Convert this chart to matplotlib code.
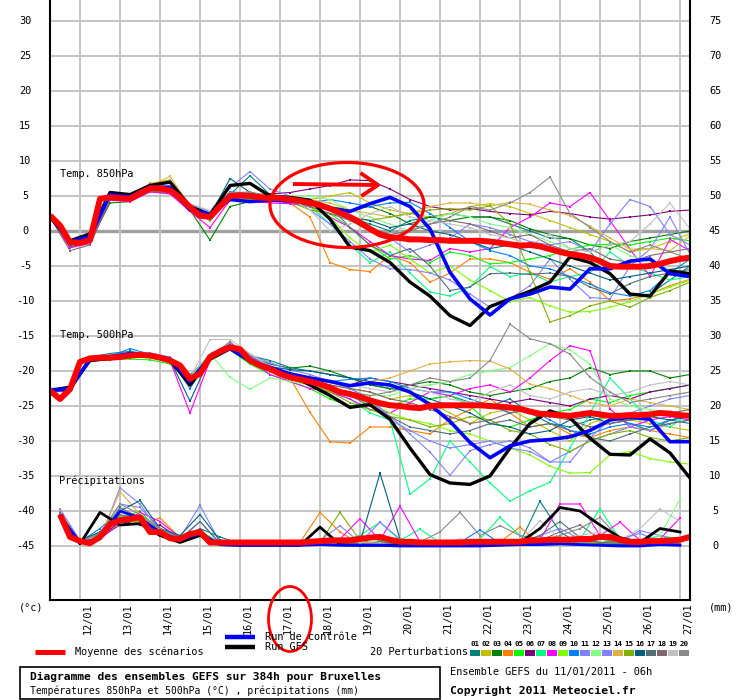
import numpy as np
import matplotlib
matplotlib.use('Agg')
import matplotlib.pyplot as plt
from matplotlib.patches import Ellipse, Rectangle
from matplotlib.transforms import blended_transform_factory as blend

# ---------------- DATA ----------------
# hours since 11/01/2011 06h; means every 6h, members every 12h
date_labels = ['12/01', '13/01', '14/01', '15/01', '16/01', '17/01', '18/01', '19/01',
               '20/01', '21/01', '22/01', '23/01', '24/01', '25/01', '26/01', '27/01']
left_ticks = [30, 25, 20, 15, 10, 5, 0, -5, -10, -15, -20, -25, -30, -35, -40, -45]
right_labels = [75, 70, 65, 60, 55, 50, 45, 40, 35, 30, 25, 20, 15, 10, 5, 0]
precip_offset = -45  # precipitation (mm) drawn on the right scale, 0 mm at -45 on the left

pert_colors = ['#008080', '#c0c000', '#008000', '#ff8000', '#00ff00', '#800080', '#00ff80',
               '#ff00ff', '#80ff00', '#0080ff', '#8080ff', '#80ff80', '#8080ff', '#e0b040',
               '#80b000', '#006080', '#507078', '#806870', '#c0c0c0', '#888888']

mean_t850 = [2.2, 0.8, -1.6, -1.7, -1.3, 4.6, 4.8, 4.7, 4.6, 5.4,
             6.1, 6.1, 5.8, 4.8, 3.4, 2.2, 2.0, 3.5, 5.0, 5.1,
             5.0, 4.8, 4.7, 4.7, 4.5, 4.3, 4.0, 3.7, 3.2, 2.6,
             2.0, 1.2, 0.3, -0.5, -0.9, -1.0, -1.2, -1.2, -1.3, -1.3,
             -1.4, -1.4, -1.4, -1.4, -1.5, -1.7, -1.9, -2.1, -2.0, -2.2,
             -2.6, -3.0, -3.3, -3.5, -3.8, -4.3, -5.0, -5.1, -5.1, -5.1,
             -5.0, -4.7, -4.3, -4.0, -3.8]
mean_t500 = [-22.8, -24.0, -22.6, -18.7, -18.2, -18.1, -18.1, -18.0, -17.8, -17.7,
             -17.8, -18.1, -18.5, -19.2, -21.1, -20.4, -18.0, -17.2, -16.6, -16.9,
             -18.5, -19.2, -19.7, -20.4, -20.9, -21.2, -21.5, -21.9, -22.4, -23.0,
             -23.3, -23.7, -24.2, -24.6, -24.9, -25.0, -25.2, -25.3, -25.0, -24.9,
             -24.9, -24.9, -24.9, -24.9, -25.0, -25.1, -25.2, -25.4, -25.8, -26.1,
             -26.2, -26.3, -26.4, -26.2, -26.0, -26.2, -26.4, -26.4, -26.3, -26.3,
             -26.2, -26.0, -26.1, -26.3, -26.4]
mean_precip = [4.5, 1.3, 0.7, 0.4, 1.3, 3.1, 3.7, 3.9, 4.1, 2.0,
               2.0, 1.1, 1.0, 1.7, 2.0, 0.5, 0.5, 0.5, 0.5, 0.5,
               0.5, 0.5, 0.5, 0.5, 0.5, 0.6, 0.7, 0.8, 0.8, 0.8,
               1.0, 1.2, 1.3, 0.9, 0.6, 0.6, 0.5, 0.5, 0.5, 0.5,
               0.5, 0.6, 0.6, 0.6, 0.6, 0.6, 0.6, 0.8, 0.8, 0.9,
               0.9, 0.9, 1.0, 1.0, 1.3, 1.3, 0.9, 0.6, 0.6, 0.7,
               0.7, 0.8, 0.9, 1.3]

ctrl_t850 = [2.2, -1.5, -0.8, 5.2, 4.9, 6.3, 6.2, 3.0, 2.4, 4.5, 4.2, 4.4, 4.3,
             4.0, 3.2, 2.8, 3.9, 4.8, 3.5, 0.3, -5.9, -9.7, -12.0, -9.7, -9.0, -8.0,
             -8.3, -5.4, -5.4, -4.3, -4.0, -6.1, -6.5]
gfs_t850 = [2.0, -1.4, -0.4, 5.5, 5.2, 6.5, 7.0, 3.5, 2.3, 6.5, 6.8, 5.0, 4.8,
            4.4, 1.7, -2.3, -2.8, -4.5, -7.3, -9.3, -12.1, -13.5, -10.8, -9.7, -8.6,
            -7.3, -3.7, -4.5, -6.1, -9.0, -9.3, -5.7, -6.1]
ctrl_t500 = [-22.8, -22.5, -18.3, -18.0, -17.5, -17.8, -18.3, -21.5, -18.0, -16.8, -18.5,
             -19.5, -20.4, -21.0, -21.5, -22.1, -21.7, -22.0, -23.0, -24.8, -27.2, -30.2,
             -32.4, -30.7, -30.0, -29.8, -29.4, -28.5, -27.0, -26.6, -26.9, -30.1, -30.1]
gfs_t500 = [-22.8, -22.3, -18.5, -18.2, -17.6, -17.9, -18.4, -22.0, -18.3, -16.8, -18.6,
            -19.8, -20.5, -22.0, -23.5, -25.2, -24.8, -26.9, -31.0, -34.8, -36.0, -36.2,
            -35.0, -31.0, -27.5, -25.7, -26.7, -29.6, -31.9, -32.0, -29.7, -31.7, -35.3]
ctrl_precip = [4.2, 0.5, 1.0, 5.0, 4.0, 2.0, 0.8, 1.8, 0.2, 0.1,
               0.1, 0.1, 0.1, 0.2, 0.1, 0.1, 0.1, 0.0, 0.0, 0.0,
               0.0, 0.0, 0.1, 0.2, 0.2, 0.3, 0.2, 0.1, 0.0, 0.0,
               0.2, 0.1]
gfs_precip = [4.3, 0.3, 4.8, 3.0, 3.2, 1.5, 0.5, 1.5, 0.2, 0.1,
              0.1, 0.1, 0.1, 2.7, 0.2, 0.1, 0.1, 0.2, 0.1, 0.1,
              0.3, 0.3, 0.4, 0.5, 2.5, 5.5, 5.0, 3.0, 1.2, 0.5,
              2.5, 2.0]

t850_01 = [2.1, -1.7, -0.9, 5.0, 4.8, 6.0, 5.6, 3.1, 2.2, 5.2, 7.9, 5.2, 4.6, 4.0, 3.5, 2.0, 1.0, 0.0, 1.5, 2.0, 2.5, 2.0, 2.0, 1.0, 0.0, -1.0, -1.1, -3.0, -6.0, -9.3, -9.0, -7.0, -5.0]
t850_02 = [2.2, -1.9, -1.2, 4.5, 4.8, 6.8, 7.3, 3.8, 1.8, 4.6, 5.5, 5.0, 4.8, 4.5, 5.0, 5.5, 4.0, 3.0, 2.5, 2.0, 2.5, 3.5, 3.9, 3.5, 2.5, 1.5, 0.5, -0.5, -1.5, -3.0, -2.5, -1.5, -0.4]
t850_03 = [2.0, -2.3, -1.5, 4.0, 4.2, 5.6, 5.4, 3.0, -1.3, 3.5, 4.2, 4.5, 4.0, 4.0, 3.5, 3.0, 3.5, 2.5, 1.0, 2.0, 1.5, 2.0, 2.0, 1.5, 0.3, -0.5, -1.1, -2.0, -2.5, -1.5, -1.0, -0.5, 0.0]
t850_04 = [2.2, -1.8, -1.0, 5.0, 4.5, 6.0, 5.8, 3.6, 2.2, 5.0, 4.6, 4.8, 4.0, 2.0, -4.5, -5.5, -5.8, -3.5, -4.5, -7.3, -6.0, -4.0, -4.0, -4.5, -5.9, -6.9, -5.4, -7.3, -10.0, -9.7, -9.0, -7.8, -6.9]
t850_05 = [2.0, -2.0, -1.4, 4.6, 4.3, 5.7, 5.5, 3.2, 1.5, 4.8, 4.5, 4.8, 4.2, 3.0, 2.5, 0.5, -2.0, -4.0, -3.5, -4.5, -3.0, -3.5, -4.7, -4.5, -4.0, -3.5, -2.6, -2.0, -1.9, -2.0, -1.5, -1.0, -1.4]
t850_06 = [2.1, -1.7, -0.8, 4.9, 4.7, 6.2, 5.9, 3.5, 2.4, 5.3, 5.2, 5.3, 5.5, 6.0, 6.5, 7.3, 7.2, 6.0, 4.5, 3.5, 3.0, 3.2, 2.8, 2.5, 2.3, 2.8, 2.5, 2.0, 1.7, 2.0, 2.3, 2.8, 3.0]
t850_07 = [2.1, -1.9, -1.1, 4.7, 4.6, 6.0, 5.7, 3.3, 1.9, 4.9, 5.1, 4.6, 4.3, 3.5, 1.0, -2.0, -4.5, -3.0, -6.0, -8.7, -9.3, -8.0, -5.1, -6.5, -6.0, -7.3, -6.5, -6.0, -3.0, -5.0, -6.0, -7.0, -6.5]
t850_08 = [2.0, -2.4, -1.8, 4.4, 4.2, 5.6, 5.3, 2.8, 0.5, 4.4, 4.3, 4.0, 3.9, 3.5, 2.0, 0.5, -1.5, -3.5, -4.0, -4.2, -2.5, -3.0, -2.5, 0.5, 2.0, 4.0, 3.5, 5.5, 1.5, -2.6, -6.5, -1.2, -2.8]
t850_09 = [2.2, -1.8, -1.1, 4.9, 4.5, 5.9, 5.7, 3.4, 2.0, 5.1, 4.9, 4.7, 4.5, 3.5, 2.0, -1.0, -3.0, -2.0, -4.0, -6.0, -5.0, -7.0, -8.5, -10.1, -9.5, -10.7, -11.6, -11.5, -10.9, -10.1, -9.0, -8.0, -7.0]
t850_10 = [2.3, -1.6, -0.7, 5.3, 5.0, 6.4, 6.0, 3.6, 2.6, 5.6, 5.4, 5.0, 4.7, 4.0, 4.5, 4.0, 3.5, 4.0, 4.1, 2.5, 0.5, -1.5, -2.8, -3.5, -5.0, -5.4, -6.5, -7.6, -8.8, -9.3, -8.5, -6.0, -4.0]
t850_11 = [2.2, -1.5, -0.6, 5.3, 5.2, 6.7, 6.5, 3.8, 2.8, 6.2, 8.5, 6.0, 5.0, 3.0, 1.0, -1.5, -4.0, -5.4, -5.5, -6.0, -7.0, -9.0, -10.9, -9.7, -7.8, -4.0, -6.9, -9.5, -9.7, -5.0, -2.6, 2.0, -3.3]
t850_12 = [2.1, -1.8, -1.0, 4.8, 4.7, 6.0, 5.8, 3.3, 2.0, 4.9, 5.0, 4.9, 5.0, 5.0, 4.5, 3.0, 2.0, 1.0, 0.0, 1.5, 2.5, 2.0, 1.0, 0.5, -0.5, -1.5, -2.5, -3.0, -2.0, -3.5, -4.5, -5.5, -6.0]
t850_13 = [2.0, -2.0, -1.3, 4.6, 4.5, 6.0, 6.1, 3.2, 1.9, 4.7, 4.8, 4.4, 4.2, 4.0, 3.0, 2.0, 0.0, -1.0, -3.0, -2.0, -1.0, 1.0, 0.5, -0.5, -1.5, -2.0, -1.5, -3.0, 1.0, 4.5, 3.5, -0.5, -2.0]
t850_14 = [2.2, -1.7, -0.9, 5.1, 4.9, 6.4, 7.8, 3.5, 2.3, 5.4, 5.2, 5.1, 4.9, 4.5, 4.0, 3.0, 2.5, 2.0, 2.5, 3.5, 4.0, 4.0, 3.6, 4.1, 3.8, 3.0, 2.2, 0.7, -1.0, -2.6, -2.5, -2.8, -0.7]
t850_15 = [2.1, -1.8, -1.2, 4.7, 4.4, 5.8, 5.6, 3.1, 1.6, 4.6, 4.7, 4.6, 4.4, 3.0, 2.5, 2.0, 1.5, 2.0, 2.5, 3.0, 3.2, 3.0, 3.6, 1.0, -6.0, -13.0, -12.1, -10.7, -10.0, -10.9, -9.5, -8.5, -7.3]
t850_16 = [2.2, -1.6, -0.8, 5.0, 4.8, 6.2, 5.9, 3.4, 2.1, 7.5, 5.5, 4.8, 4.5, 4.0, 3.0, 2.0, 1.5, 0.5, 1.0, 0.0, -0.5, -1.5, -2.5, -2.0, -3.0, -4.0, -5.0, -6.0, -7.0, -6.5, -6.0, -5.5, -5.0]
t850_17 = [2.1, -2.1, -1.4, 4.9, 4.6, 6.1, 5.8, 3.3, 1.8, 5.0, 5.3, 4.6, 4.4, 4.5, 3.5, 0.5, -2.0, -3.5, -2.5, -5.0, -8.5, -8.0, -6.1, -6.0, -6.2, -6.0, -6.5, -8.0, -9.0, -7.5, -6.5, -6.0, -5.5]
t850_18 = [2.0, -2.8, -2.0, 4.5, 4.4, 5.8, 5.5, 3.0, 1.7, 4.7, 4.9, 4.5, 4.3, 3.5, 2.5, 1.5, 0.5, -0.5, 0.0, 1.0, 1.5, 1.0, 0.0, -1.0, -0.5, -2.0, -3.0, -2.5, -4.0, -4.5, -3.5, -3.0, -2.5]
t850_19 = [2.2, -1.8, -1.0, 4.8, 4.6, 5.9, 5.8, 3.9, 2.9, 5.2, 5.1, 4.8, 4.6, 3.0, 0.0, 1.0, 2.5, 3.5, 2.0, 1.5, 1.0, 0.5, -0.5, -1.0, -2.0, -0.5, -2.5, -3.0, -2.0, -1.5, 1.0, 4.0, 0.3]
t850_20 = [2.1, -1.9, -1.1, 4.8, 4.7, 6.3, 6.0, 3.4, 2.0, 5.4, 5.6, 4.9, 4.7, 4.0, 3.0, 1.5, 0.0, -1.0, 0.0, 1.0, 2.0, 3.5, 3.0, 4.0, 5.5, 7.7, 2.5, 0.5, -1.5, -3.0, -2.0, -3.0, -4.0]

t500_01 = [-22.6, -22.4, -18.0, -17.5, -17.2, -17.6, -18.3, -21.5, -17.5, -16.4, -17.8, -18.5, -19.5, -20.0, -20.5, -21.0, -22.0, -22.5, -23.0, -24.0, -23.5, -24.5, -25.0, -24.0, -26.0, -27.5, -28.0, -27.0, -26.5, -27.5, -28.5, -27.0, -27.5]
t500_02 = [-22.9, -22.7, -18.5, -18.3, -17.9, -17.6, -18.4, -20.8, -17.9, -16.2, -17.6, -19.4, -20.6, -21.0, -22.0, -22.5, -23.0, -24.0, -23.5, -24.5, -26.0, -27.5, -26.0, -25.5, -27.0, -28.5, -30.0, -27.5, -26.5, -27.0, -27.5, -28.0, -28.5]
t500_03 = [-23.0, -22.9, -18.6, -18.4, -18.0, -17.9, -18.6, -20.5, -18.3, -16.8, -18.0, -19.0, -19.6, -19.3, -20.0, -21.0, -22.0, -22.5, -22.0, -21.5, -22.0, -23.0, -23.5, -23.0, -22.5, -21.5, -21.0, -19.5, -20.5, -20.0, -20.0, -21.0, -20.5]
t500_04 = [-22.7, -22.5, -18.3, -18.2, -17.9, -18.0, -18.7, -21.3, -18.2, -16.9, -18.6, -20.0, -21.0, -25.9, -30.1, -30.3, -28.0, -28.0, -28.5, -29.0, -26.9, -25.5, -24.0, -26.0, -28.0, -27.5, -29.0, -29.5, -28.5, -28.0, -28.5, -29.0, -29.5]
t500_05 = [-22.8, -22.6, -18.4, -18.3, -18.3, -18.4, -19.0, -21.5, -18.5, -17.0, -19.0, -20.5, -21.5, -22.5, -24.0, -25.0, -24.5, -25.0, -24.0, -24.0, -23.5, -25.0, -27.5, -28.0, -27.0, -26.0, -25.5, -24.0, -24.5, -23.5, -23.0, -22.5, -22.0]
t500_06 = [-22.7, -22.5, -18.1, -18.0, -17.6, -17.5, -18.1, -20.9, -17.8, -16.5, -18.3, -19.8, -20.5, -21.0, -21.5, -22.0, -21.0, -21.5, -22.0, -22.5, -23.0, -23.5, -24.0, -24.5, -24.0, -24.5, -25.0, -24.0, -23.5, -24.0, -23.0, -22.5, -22.0]
t500_07 = [-22.8, -22.6, -18.3, -18.1, -17.9, -17.8, -18.6, -21.3, -18.1, -16.7, -18.6, -20.0, -21.0, -22.0, -23.0, -24.0, -26.0, -27.0, -37.6, -35.4, -30.0, -33.0, -36.0, -38.6, -37.1, -35.9, -31.0, -26.0, -21.0, -24.0, -27.0, -28.0, -26.0]
t500_08 = [-22.9, -22.8, -18.3, -18.2, -17.8, -17.7, -18.5, -26.0, -18.5, -16.8, -18.5, -20.5, -21.5, -22.5, -23.0, -24.0, -25.5, -26.0, -24.5, -23.0, -23.5, -22.5, -22.0, -23.0, -21.0, -18.5, -16.4, -17.1, -25.4, -28.0, -27.0, -26.5, -27.0]
t500_09 = [-22.8, -22.6, -18.2, -18.0, -17.7, -17.7, -18.4, -21.0, -17.9, -16.5, -18.4, -19.6, -20.8, -21.5, -22.5, -23.5, -24.5, -26.0, -27.0, -27.5, -28.5, -29.0, -30.0, -31.0, -32.0, -33.6, -34.6, -34.5, -32.0, -31.5, -32.5, -33.0, -33.3]
t500_10 = [-22.6, -22.4, -18.1, -17.9, -16.8, -17.6, -18.2, -22.5, -18.0, -16.3, -18.0, -19.5, -20.5, -21.0, -21.5, -21.2, -21.0, -21.5, -22.5, -23.0, -23.0, -24.0, -25.0, -26.0, -25.5, -27.0, -28.5, -29.0, -28.0, -27.5, -28.0, -27.0, -26.5]
t500_11 = [-22.5, -22.3, -18.0, -17.7, -17.5, -17.4, -18.0, -20.7, -17.6, -16.0, -17.7, -18.8, -19.8, -20.5, -21.5, -22.5, -24.0, -26.5, -29.0, -31.6, -34.9, -31.4, -30.5, -30.0, -31.0, -33.0, -33.0, -29.5, -27.0, -26.0, -25.0, -24.0, -23.5]
t500_12 = [-22.8, -22.6, -18.3, -18.1, -17.8, -17.9, -18.6, -21.0, -17.5, -20.9, -22.6, -21.0, -21.5, -22.0, -22.5, -23.0, -23.5, -23.5, -22.5, -22.0, -21.5, -20.5, -20.0, -19.5, -17.8, -16.1, -17.0, -19.0, -24.0, -25.0, -25.5, -26.0, -25.5]
t500_13 = [-22.7, -22.5, -18.2, -18.0, -17.6, -17.6, -18.3, -21.2, -17.9, -16.6, -17.9, -19.2, -20.3, -21.0, -21.5, -22.5, -24.0, -27.0, -28.5, -30.0, -31.0, -30.5, -30.0, -31.0, -31.5, -33.0, -31.5, -30.0, -29.0, -28.0, -28.5, -27.5, -27.0]
t500_14 = [-22.8, -22.6, -18.2, -18.1, -17.8, -17.8, -18.4, -21.1, -18.0, -16.6, -18.3, -19.5, -20.5, -21.0, -21.5, -22.0, -21.5, -21.0, -20.0, -19.0, -18.7, -18.5, -18.6, -19.7, -21.9, -22.5, -23.5, -24.5, -25.0, -24.0, -24.5, -25.0, -25.5]
t500_15 = [-22.9, -22.7, -18.4, -18.2, -17.9, -17.9, -18.7, -21.4, -18.3, -16.9, -18.7, -20.1, -21.2, -22.0, -23.0, -24.5, -25.5, -26.5, -27.0, -28.0, -27.5, -26.5, -27.0, -28.5, -29.0, -30.5, -31.5, -30.0, -29.0, -28.5, -29.5, -30.0, -29.5]
t500_16 = [-22.7, -22.5, -18.1, -18.0, -17.7, -17.7, -18.4, -24.3, -18.1, -16.7, -18.4, -19.4, -19.8, -20.0, -20.5, -21.0, -21.5, -22.0, -23.0, -24.0, -25.0, -26.0, -27.5, -28.0, -29.0, -28.5, -27.0, -26.5, -27.5, -27.0, -26.5, -27.0, -26.5]
t500_17 = [-22.8, -22.6, -18.3, -18.1, -17.8, -17.8, -18.5, -21.2, -18.1, -16.7, -18.5, -19.7, -20.8, -21.5, -22.5, -23.5, -25.0, -26.5, -28.0, -28.5, -29.0, -28.5, -27.5, -27.0, -28.0, -27.5, -28.5, -29.5, -30.0, -29.0, -28.0, -27.5, -27.0]
t500_18 = [-22.9, -22.7, -18.2, -18.2, -17.9, -17.9, -18.6, -21.3, -18.2, -16.8, -18.6, -19.9, -21.0, -21.5, -22.0, -22.5, -23.0, -24.0, -24.5, -25.5, -26.5, -27.5, -27.0, -26.0, -25.5, -26.5, -27.0, -28.0, -27.5, -27.0, -26.5, -26.0, -25.5]
t500_19 = [-22.8, -22.5, -18.2, -18.1, -17.8, -17.8, -18.4, -21.0, -15.5, -15.5, -17.5, -19.4, -20.4, -21.0, -21.5, -22.0, -22.5, -23.0, -22.5, -23.0, -24.0, -24.5, -23.0, -22.0, -23.5, -24.0, -23.0, -22.5, -23.5, -23.0, -22.0, -21.5, -22.0]
t500_20 = [-22.8, -22.6, -18.2, -18.1, -17.8, -17.8, -18.5, -21.1, -18.0, -15.8, -18.3, -19.6, -20.7, -21.5, -22.5, -23.0, -23.5, -23.0, -22.0, -21.0, -21.5, -21.0, -18.5, -13.3, -15.4, -16.1, -17.6, -20.9, -23.0, -24.5, -24.0, -23.5, -23.0]

rr_01 = [4.5, 0.6, 1.5, 4.0, 3.5, 2.0, 1.0, 2.5, 1.3, 0.3, 0.2, 0.1, 0.1, 0.2, 0.3, 1.5, 0.8, 0.2, 0.1, 0.2, 0.3, 0.2, 0.3, 0.5, 6.4, 2.0, 0.3, 0.2, 0.1, 0.1, 0.2, 0.3]
rr_02 = [4.0, 0.5, 1.0, 3.5, 4.5, 2.5, 0.8, 1.5, 0.2, 0.1, 0.1, 0.1, 0.2, 0.5, 0.3, 0.2, 0.4, 0.3, 0.2, 0.6, 0.2, 0.3, 0.2, 0.1, 0.3, 0.2, 0.5, 0.3, 0.2, 0.1, 0.3, 0.6]
rr_03 = [4.2, 0.4, 1.2, 3.0, 3.8, 1.8, 0.6, 2.0, 0.3, 0.2, 0.1, 0.1, 0.1, 0.2, 0.2, 0.3, 0.2, 0.1, 0.1, 0.1, 0.2, 0.1, 0.1, 0.2, 0.3, 0.5, 0.2, 0.1, 0.2, 0.3, 0.2, 0.1]
rr_04 = [4.8, 0.7, 1.5, 4.5, 3.0, 4.0, 1.2, 1.8, 0.3, 0.2, 0.1, 0.2, 0.5, 4.8, 2.0, 0.3, 0.3, 0.2, 0.4, 0.6, 0.8, 0.5, 0.6, 2.7, 0.3, 0.4, 0.6, 0.3, 0.2, 0.3, 0.5, 0.4]
rr_05 = [4.5, 0.5, 2.0, 4.0, 5.0, 2.0, 1.5, 2.2, 0.4, 0.1, 0.1, 0.1, 0.1, 0.3, 0.5, 0.4, 0.6, 1.0, 0.5, 0.3, 0.2, 0.3, 0.5, 0.6, 0.3, 0.4, 0.8, 0.5, 0.4, 0.3, 0.8, 1.2]
rr_06 = [4.3, 0.5, 1.2, 3.5, 3.0, 3.0, 1.0, 1.5, 0.2, 0.1, 0.1, 0.1, 0.2, 0.3, 0.2, 0.4, 0.3, 0.2, 0.2, 0.3, 0.2, 0.1, 0.1, 0.2, 0.3, 0.4, 0.2, 0.1, 0.1, 0.2, 0.3, 0.2]
rr_07 = [4.6, 0.6, 1.4, 4.2, 4.5, 2.2, 1.0, 1.8, 0.3, 0.2, 0.1, 0.1, 0.1, 0.3, 0.6, 1.5, 3.4, 0.8, 2.4, 0.5, 0.6, 1.0, 4.1, 1.5, 0.5, 0.6, 1.0, 5.3, 1.0, 0.5, 1.5, 1.0]
rr_08 = [4.0, 0.5, 1.0, 3.2, 4.8, 3.5, 1.2, 2.0, 0.3, 0.1, 0.1, 0.1, 0.2, 0.5, 1.0, 3.9, 0.8, 5.7, 0.6, 0.2, 0.3, 0.2, 0.1, 0.3, 0.8, 6.0, 6.0, 1.5, 3.4, 0.8, 1.0, 4.0]
rr_09 = [4.4, 0.5, 1.5, 4.5, 3.5, 2.0, 0.8, 1.6, 0.2, 0.1, 0.1, 0.1, 0.1, 0.2, 0.3, 0.2, 0.3, 0.2, 0.1, 0.2, 0.1, 0.2, 0.3, 0.2, 0.1, 0.2, 0.3, 0.2, 0.1, 0.1, 0.2, 0.5]
rr_10 = [4.7, 0.6, 2.5, 5.0, 4.0, 1.5, 0.7, 2.0, 0.3, 0.1, 0.1, 0.1, 0.1, 0.2, 0.2, 0.3, 0.5, 0.4, 0.3, 0.4, 0.5, 2.3, 0.4, 0.3, 0.4, 0.5, 0.3, 0.2, 0.4, 0.3, 0.2, 0.3]
rr_11 = [5.3, 0.8, 1.8, 6.0, 5.5, 2.5, 1.2, 5.8, 0.5, 0.2, 0.1, 0.1, 0.3, 0.8, 2.9, 0.5, 3.4, 1.0, 0.4, 0.3, 0.5, 0.4, 0.3, 0.5, 1.5, 2.5, 1.0, 0.5, 0.6, 2.2, 1.5, 0.5]
rr_12 = [4.5, 0.6, 1.5, 4.0, 4.2, 2.0, 1.0, 1.5, 0.2, 0.1, 0.1, 0.1, 0.2, 0.3, 0.5, 0.4, 0.5, 0.6, 0.4, 0.3, 0.3, 0.4, 0.5, 0.4, 0.8, 1.0, 0.8, 1.2, 0.6, 0.8, 1.5, 6.7]
rr_13 = [4.2, 0.5, 1.0, 8.3, 6.0, 2.0, 0.9, 3.5, 0.3, 0.1, 0.1, 0.1, 0.1, 0.3, 0.4, 0.3, 0.5, 0.4, 0.3, 0.4, 0.3, 0.2, 0.4, 0.5, 0.8, 0.6, 0.5, 0.4, 1.0, 1.8, 0.6, 0.5]
rr_14 = [4.6, 0.7, 1.2, 7.8, 4.5, 2.2, 1.0, 1.8, 0.3, 0.1, 0.1, 0.1, 0.2, 0.3, 0.2, 0.3, 0.4, 0.2, 0.3, 0.2, 0.4, 0.3, 0.4, 0.3, 0.2, 0.3, 0.2, 0.4, 0.3, 0.2, 0.3, 0.4]
rr_15 = [4.4, 0.5, 1.8, 4.0, 3.5, 2.2, 0.8, 1.8, 0.2, 0.1, 0.1, 0.1, 0.2, 0.5, 4.8, 0.8, 0.3, 0.4, 0.3, 0.2, 0.5, 0.4, 0.3, 0.2, 0.5, 0.4, 0.6, 0.5, 0.8, 0.5, 0.3, 1.2]
rr_16 = [4.5, 0.8, 2.0, 5.0, 6.5, 2.5, 1.5, 4.5, 0.8, 0.3, 0.2, 0.1, 0.1, 0.2, 0.5, 0.5, 10.4, 1.0, 0.3, 0.2, 0.3, 0.2, 0.3, 0.4, 0.5, 0.3, 0.2, 0.3, 0.2, 0.3, 0.2, 0.3]
rr_17 = [4.3, 0.6, 1.5, 5.5, 4.0, 2.0, 1.0, 3.5, 0.4, 0.2, 0.1, 0.1, 0.1, 0.4, 0.3, 0.3, 0.6, 0.3, 0.4, 0.3, 0.6, 0.3, 0.5, 0.4, 1.5, 3.5, 1.2, 0.5, 0.4, 0.3, 0.5, 0.3]
rr_18 = [4.4, 0.5, 1.2, 4.5, 3.8, 2.0, 0.8, 1.6, 0.3, 0.1, 0.1, 0.1, 0.2, 0.3, 0.2, 0.4, 0.3, 0.2, 0.3, 0.2, 0.4, 0.3, 0.4, 0.5, 0.8, 2.0, 3.0, 1.0, 0.5, 0.3, 0.4, 0.3]
rr_19 = [4.5, 0.6, 1.5, 4.0, 4.0, 2.0, 0.9, 1.8, 0.3, 0.1, 0.1, 0.1, 0.2, 0.4, 0.3, 0.5, 0.4, 0.3, 0.4, 0.6, 1.0, 0.8, 0.6, 0.5, 3.6, 1.0, 1.5, 2.0, 0.8, 2.5, 5.3, 3.5]
rr_20 = [4.6, 0.7, 1.8, 6.0, 4.5, 2.5, 1.0, 2.0, 0.3, 0.2, 0.1, 0.1, 0.1, 0.3, 0.5, 1.5, 0.8, 1.0, 0.6, 2.0, 4.8, 1.5, 2.9, 1.5, 0.8, 1.5, 2.5, 4.1, 1.0, 0.5, 0.8, 1.0]

t850_members = [t850_01, t850_02, t850_03, t850_04, t850_05, t850_06, t850_07, t850_08, t850_09, t850_10,
                t850_11, t850_12, t850_13, t850_14, t850_15, t850_16, t850_17, t850_18, t850_19, t850_20]
t500_members = [t500_01, t500_02, t500_03, t500_04, t500_05, t500_06, t500_07, t500_08, t500_09, t500_10,
                t500_11, t500_12, t500_13, t500_14, t500_15, t500_16, t500_17, t500_18, t500_19, t500_20]
rr_members = [rr_01, rr_02, rr_03, rr_04, rr_05, rr_06, rr_07, rr_08, rr_09, rr_10,
              rr_11, rr_12, rr_13, rr_14, rr_15, rr_16, rr_17, rr_18, rr_19, rr_20]

# ---------------- FIGURE ----------------
MONO = 'DejaVu Sans Mono'
W, H = 740, 700
fig = plt.figure(figsize=(W / 100, H / 100), dpi=100)
fig.patch.set_facecolor('white')

px_per_deg = 7.0
zero_px = 231.0
plot_top_px, plot_bot_px = 0.0, 600.0
plot_left_px, plot_right_px = 50.0, 690.0

ax = fig.add_axes([plot_left_px / W, 1 - plot_bot_px / H,
                   (plot_right_px - plot_left_px) / W, (plot_bot_px - plot_top_px) / H])
ax.set_xlim(0, 384)
ax.set_ylim((zero_px - plot_bot_px) / px_per_deg, (zero_px - plot_top_px) / px_per_deg)
ax.set_xticks([])
ax.set_yticks([])
ax.set_facecolor('white')
ax.spines['top'].set_visible(False)
for s in ('left', 'right', 'bottom'):
    ax.spines[s].set_color('black')
    ax.spines[s].set_linewidth(1.5)
    ax.spines[s].set_zorder(10)

ov = fig.add_axes([0, 0, 1, 1], facecolor='none')
ov.set_xlim(0, W)
ov.set_ylim(H, 0)
ov.axis('off')

# grid
midnights = [18 + 24 * k for k in range(len(date_labels))]
for v in left_ticks:
    if v == 0:
        ax.axhline(v, color='#a0a0a0', lw=2.4, zorder=1)
    else:
        ax.axhline(v, color='#c4c4c4', lw=1.4, zorder=1)
for h in midnights:
    ax.axvline(h, color='#c4c4c4', lw=1.4, zorder=1)

# time axes
h_fine = np.arange(len(mean_t850)) * 6
h_fine500 = np.arange(len(mean_t500)) * 6
h_rr_fine = 6 + np.arange(len(mean_precip)) * 6

# perturbations
for col, a, b, r in zip(pert_colors, t850_members, t500_members, rr_members):
    kw = dict(color=col, lw=0.8, marker='s', ms=1.6, mew=0, zorder=2)
    ax.plot(np.arange(len(a)) * 12, a, **kw)
    ax.plot(np.arange(len(b)) * 12, b, **kw)
    ax.plot(6 + np.arange(len(r)) * 12, precip_offset + np.array(r), **kw)

# GFS run
for arr in (gfs_t850, gfs_t500):
    ax.plot(np.arange(len(arr)) * 12, arr, color='black', lw=2.4, zorder=3)
ax.plot(6 + np.arange(len(gfs_precip)) * 12, precip_offset + np.array(gfs_precip),
        color='black', lw=2.0, zorder=3)

# control run
for arr in (ctrl_t850, ctrl_t500):
    ax.plot(np.arange(len(arr)) * 12, arr, color='#0000ff', lw=2.6, zorder=4)
ax.plot(6 + np.arange(len(ctrl_precip)) * 12, precip_offset + np.array(ctrl_precip),
        color='#0000ff', lw=2.0, zorder=4)

# ensemble mean
ax.plot(h_fine, mean_t850, color='#ff0000', lw=4.3, zorder=5, solid_capstyle='butt')
ax.plot(h_fine500, mean_t500, color='#ff0000', lw=4.3, zorder=5, solid_capstyle='butt')
ax.plot(h_rr_fine, precip_offset + np.array(mean_precip), color='#ff0000', lw=4.3, zorder=5,
        solid_capstyle='butt')

# panel labels
fs = 7.4
ax.text(60, 174, 'Temp. 850hPa', transform=blend(ov.transData, ov.transData),
        fontsize=fs, family=MONO, va='center', ha='left', zorder=6)
ax.text(60, 335, 'Temp. 500hPa', transform=blend(ov.transData, ov.transData),
        fontsize=fs, family=MONO, va='center', ha='left', zorder=6)
ax.text(59, 481, 'Précipitations', transform=blend(ov.transData, ov.transData),
        fontsize=fs, family=MONO, va='center', ha='left', zorder=6)

# y tick labels
tr_y = blend(ov.transData, ax.transData)
for v, rl in zip(left_ticks, right_labels):
    ax.text(25, v, str(v), transform=tr_y, ha='center', va='center', fontsize=fs, family=MONO)
    ax.text(715, v, str(rl), transform=tr_y, ha='center', va='center', fontsize=fs, family=MONO)

# x tick labels
tr_x = blend(ax.transData, ov.transData)
for h, lab in zip(midnights, date_labels):
    ax.text(h + 4.8, 603, lab, transform=tr_x, rotation=90, ha='center', va='top',
            fontsize=fs, family=MONO)

ov.text(31, 607, '(°c)', ha='center', va='center', fontsize=fs, family=MONO)
ov.text(721, 607, '(mm)', ha='center', va='center', fontsize=fs, family=MONO)

# legend
ov.plot([225, 255], [637, 637], color='#0000ff', lw=3.2, solid_capstyle='butt')
ov.text(265, 637, 'Run de contrôle', ha='left', va='center', fontsize=fs, family=MONO)
ov.plot([225, 255], [647, 647], color='black', lw=3.2, solid_capstyle='butt')
ov.text(265, 647, 'Run GFS', ha='left', va='center', fontsize=fs, family=MONO)
ov.plot([35, 65], [652, 652], color='#ff0000', lw=3.6, solid_capstyle='butt')
ov.text(75, 652, 'Moyenne des scénarios', ha='left', va='center', fontsize=fs, family=MONO)
ov.text(370, 652, '20 Perturbations', ha='left', va='center', fontsize=fs, family=MONO)
for i, col in enumerate(pert_colors):
    x0 = 470 + 11 * i
    ov.add_patch(Rectangle((x0, 650), 10, 6, facecolor=col, edgecolor='none'))
    ov.text(x0 + 5, 643.5, f'{i + 1:02d}', ha='center', va='center', fontsize=5.4,
            family=MONO, fontweight='bold')

# title box
ov.add_patch(Rectangle((20, 667), 420, 32, fill=False, edgecolor='black', lw=1.2))
ov.text(30, 677, 'Diagramme des ensembles GEFS sur 384h pour Bruxelles', ha='left', va='center',
        fontsize=8.1, family=MONO, fontweight='bold')
ov.text(30, 691, 'Températures 850hPa et 500hPa (°C) , précipitations (mm)', ha='left',
        va='center', fontsize=7.0, family=MONO)
ov.text(450, 672, 'Ensemble GEFS du 11/01/2011 - 06h', ha='left', va='center', fontsize=fs,
        family=MONO)
ov.text(450, 691, 'Copyright 2011 Meteociel.fr', ha='left', va='center', fontsize=8.2,
        family=MONO, fontweight='bold')

# hand-drawn red annotations
ov.add_patch(Ellipse((347, 205), 154, 85, fill=False, edgecolor='#ff0000', lw=2.3))
ov.plot([293, 377], [184, 185], color='#ff0000', lw=2.8, solid_capstyle='butt')
ov.plot([362, 378, 363], [174, 185, 195], color='#ff0000', lw=2.8)
ov.add_patch(Ellipse((290, 619), 43, 65, fill=False, edgecolor='#ff0000', lw=2.0))

fig.savefig('out.png', dpi=100, facecolor='white')
